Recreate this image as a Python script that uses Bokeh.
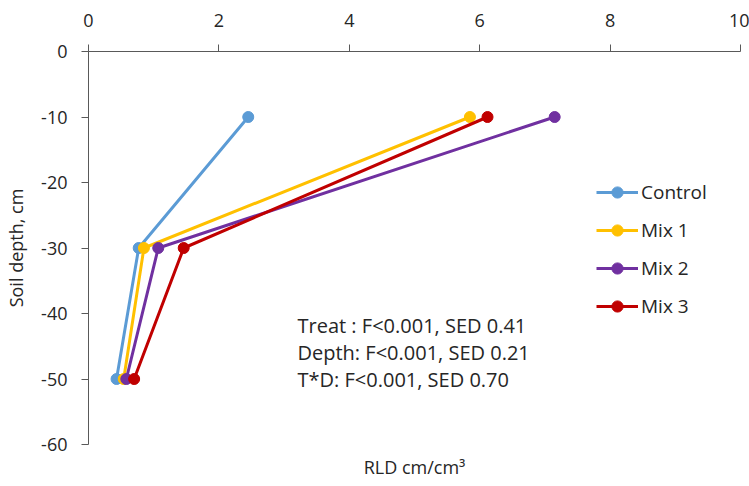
from bokeh.plotting import figure
from bokeh.models import Range1d, LinearAxis, Legend, LegendItem, Label, Title, FixedTicker
from bokeh.embed import file_html
from bokeh.resources import INLINE

depth = [-10, -30, -50]
control = [2.45, 0.77, 0.43]
mix1 = [5.85, 0.85, 0.54]
mix2 = [7.15, 1.07, 0.58]
mix3 = [6.12, 1.46, 0.70]
series_names = ["Control", "Mix 1", "Mix 2", "Mix 3"]
colors = ["#5B9BD5", "#FFC000", "#7030A0", "#C00000"]
notes = ["Treat : F<0.001, SED 0.41", "Depth: F<0.001, SED 0.21", "T*D: F<0.001, SED 0.70"]
x_ticks = [0, 2, 4, 6, 8, 10]
y_ticks = [0, -10, -20, -30, -40, -50, -60]

FONT = "Open Sans"
TXT = "#262626"
AX = "#595959"

p = figure(width=749, height=486, output_backend="svg", toolbar_location=None,
           x_range=Range1d(0, 10), y_range=Range1d(-60, 0),
           x_axis_location=None, y_axis_location=None,
           min_border_left=88, min_border_top=51, min_border_right=9, min_border_bottom=42)
p.outline_line_color = None
p.xgrid.grid_line_color = None
p.ygrid.grid_line_color = None
p.background_fill_color = "white"
p.border_fill_color = "white"

xa = LinearAxis(ticker=FixedTicker(ticks=x_ticks))
xa.axis_line_color = AX
xa.major_tick_line_color = AX
xa.major_tick_out = 7
xa.major_tick_in = 0
xa.minor_tick_line_color = None
xa.major_label_text_font = FONT
xa.major_label_text_font_size = "18px"
xa.major_label_text_color = TXT
xa.major_label_standoff = 18
p.add_layout(xa, "above")

ya = LinearAxis(ticker=FixedTicker(ticks=y_ticks))
ya.axis_line_color = AX
ya.major_tick_line_color = AX
ya.major_tick_out = 7
ya.major_tick_in = 0
ya.minor_tick_line_color = None
ya.major_label_text_font = FONT
ya.major_label_text_font_size = "18px"
ya.major_label_text_color = TXT
ya.major_label_standoff = 14
ya.major_label_overrides = {t: str(t) for t in y_ticks}
ya.axis_label = "Soil depth, cm"
ya.axis_label_text_font = FONT
ya.axis_label_text_font_size = "18px"
ya.axis_label_text_font_style = "normal"
ya.axis_label_text_color = TXT
ya.axis_label_standoff = 10
p.add_layout(ya, "left")

items = []
for name, vals, c in zip(series_names, [control, mix1, mix2, mix3], colors):
    l = p.line(vals, depth, line_color=c, line_width=3)
    s = p.scatter(vals, depth, size=11, fill_color=c, line_color=c)
    items.append(LegendItem(label=name, renderers=[l, s]))

leg = Legend(items=items, location=(508, 124))
leg.label_text_font = FONT
leg.label_text_font_size = "19px"
leg.label_text_color = TXT
leg.glyph_width = 42
leg.glyph_height = 28
leg.label_height = 28
leg.spacing = 10
leg.padding = 0
leg.margin = 0
leg.label_standoff = 3
leg.border_line_color = None
leg.background_fill_alpha = 0
p.add_layout(leg, "center")

for i, t in enumerate(notes):
    p.add_layout(Label(x=209, y=119 - 27 * i, x_units="screen", y_units="screen", text=t,
                       text_font=FONT, text_font_size="20px", text_color=TXT,
                       text_baseline="middle"))

ttl = Title(text="RLD cm/cm\u00b3", align="center", text_font=FONT, text_font_size="18px",
            text_font_style="normal", text_color=TXT, standoff=16)
p.add_layout(ttl, "below")

open("out.html", "w").write(file_html(p, INLINE))
